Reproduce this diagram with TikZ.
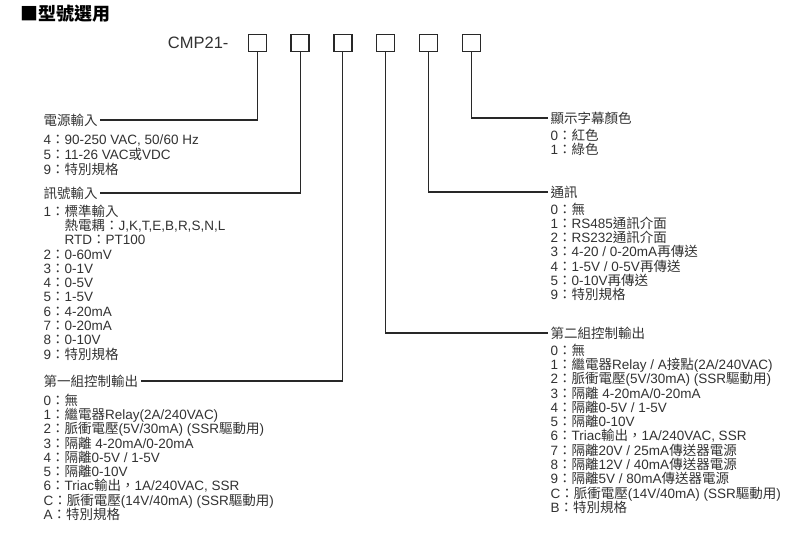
\documentclass[tikz,border=0pt]{standalone}
\usepackage{fontspec}
\setmainfont{Liberation Sans}
\newfontfamily\cjk{Noto Sans CJK TC}
\usetikzlibrary{positioning}
\definecolor{inkgray}{RGB}{50,50,50}
\definecolor{linegray}{RGB}{40,40,40}

% switch to the CJK family for ideographs and full-width signs
\chardef\cjkclass=100
\newcount\cjkcode
\cjkcode="4E00
\loop\XeTeXcharclass\cjkcode=\cjkclass\advance\cjkcode by 1 \ifnum\cjkcode<"A000 \repeat
\cjkcode="3000
\loop\XeTeXcharclass\cjkcode=\cjkclass\advance\cjkcode by 1 \ifnum\cjkcode<"3040 \repeat
\cjkcode="FF00
\loop\XeTeXcharclass\cjkcode=\cjkclass\advance\cjkcode by 1 \ifnum\cjkcode<"FFF0 \repeat
\XeTeXcharclass"25A0=\cjkclass
\XeTeXinterchartokenstate=1
\XeTeXinterchartoks 0 \cjkclass = {\begingroup\cjk}
\XeTeXinterchartoks 4095 \cjkclass = {\begingroup\cjk}
\XeTeXinterchartoks \cjkclass 0 = {\endgroup}
\XeTeXinterchartoks \cjkclass 4095 = {\endgroup}

\tikzset{
  digitbox/.style  = {draw=linegray,line width=1.3pt,minimum width=18pt,
                      minimum height=17pt,inner sep=0pt},
  grouplabel/.style= {font=\fontsize{13.5}{14.3}\selectfont,text=inkgray,
                      inner xsep=2.5pt,inner ysep=0pt},
  itemlist/.style  = {font=\fontsize{13.5}{14.3}\selectfont,text=inkgray,
                      align=left,inner sep=0pt},
  leader/.style    = {draw=linegray,line width=1.1pt},
}

\begin{document}
\begin{tikzpicture}[x=1pt,y=-1pt]
  \useasboundingbox (0,0) rectangle (808,547);
  \node[anchor=west,font=\fontsize{18}{20}\selectfont\bfseries,inner sep=0pt] (title)
    at (20,14) {■型號選用};

  % code boxes
  \foreach \i in {1,...,6}
    \node[digitbox] (b\i) at (214.5+42.8*\i,43) {};
  \node[font=\fontsize{16.5}{18}\selectfont,text=inkgray,inner sep=0pt,
        left=19pt of b1] (model) {CMP21-};

  % left column
  \node[grouplabel,anchor=west] (pwr) at (41,120) {電源輸入};
  \node[itemlist,font=\fontsize{13.5}{15}\selectfont,
        below right=8pt and 2.5pt of pwr.south west] (pwrlist)
    {4：90-250 VAC, 50/60 Hz\\5：11-26 VAC或VDC\\9：特別規格};

  \node[grouplabel,anchor=west] (sig) at (41,193) {訊號輸入};
  \node[itemlist,below right=5pt and 2.5pt of sig.south west] (siglist)
    {1：標準輸入\\
     \phantom{1：}熱電耦：J,K,T,E,B,R,S,N,L\\
     \phantom{1：}RTD：PT100\\
     2：0-60mV\\3：0-1V\\4：0-5V\\5：1-5V\\6：4-20mA\\7：0-20mA\\
     8：0-10V\\9：特別規格};

  \node[grouplabel,anchor=west] (out1) at (41,381) {第一組控制輸出};
  \node[itemlist,below right=6pt and 2.5pt of out1.south west] (out1list)
    {0：無\\
     1：繼電器Relay(2A/240VAC)\\
     2：脈衝電壓(5V/30mA) (SSR驅動用)\\
     3：隔離 4-20mA/0-20mA\\
     4：隔離0-5V / 1-5V\\
     5：隔離0-10V\\
     6：Triac輸出，1A/240VAC, SSR\\
     C：脈衝電壓(14V/40mA) (SSR驅動用)\\
     A：特別規格};

  % right column
  \node[grouplabel,anchor=west] (disp) at (548,118) {顯示字幕顏色};
  \node[itemlist,below right=4pt and 2.5pt of disp.south west] (displist)
    {0：紅色\\1：綠色};

  \node[grouplabel,anchor=west] (com) at (548,192) {通訊};
  \node[itemlist,below right=4pt and 2.5pt of com.south west] (comlist)
    {0：無\\
     1：RS485通訊介面\\
     2：RS232通訊介面\\
     3：4-20 / 0-20mA再傳送\\
     4：1-5V / 0-5V再傳送\\
     5：0-10V再傳送\\
     9：特別規格};

  \node[grouplabel,anchor=west] (out2) at (548,333) {第二組控制輸出};
  \node[itemlist,below right=4pt and 2.5pt of out2.south west] (out2list)
    {0：無\\
     1：繼電器Relay / A接點(2A/240VAC)\\
     2：脈衝電壓(5V/30mA) (SSR驅動用)\\
     3：隔離 4-20mA/0-20mA\\
     4：隔離0-5V / 1-5V\\
     5：隔離0-10V\\
     6：Triac輸出，1A/240VAC, SSR\\
     7：隔離20V / 25mA傳送器電源\\
     8：隔離12V / 40mA傳送器電源\\
     9：隔離5V / 80mA傳送器電源\\
     C：脈衝電壓(14V/40mA) (SSR驅動用)\\
     B：特別規格};

  % leaders from the boxes
  \draw[leader] (b1.south) |- (pwr.east);
  \draw[leader] (b2.south) |- (sig.east);
  \draw[leader] (b3.south) |- (out1.east);
  \draw[leader] (b4.south) |- (out2.west);
  \draw[leader] (b5.south) |- (com.west);
  \draw[leader] (b6.south) |- (disp.west);
\end{tikzpicture}
\end{document}
